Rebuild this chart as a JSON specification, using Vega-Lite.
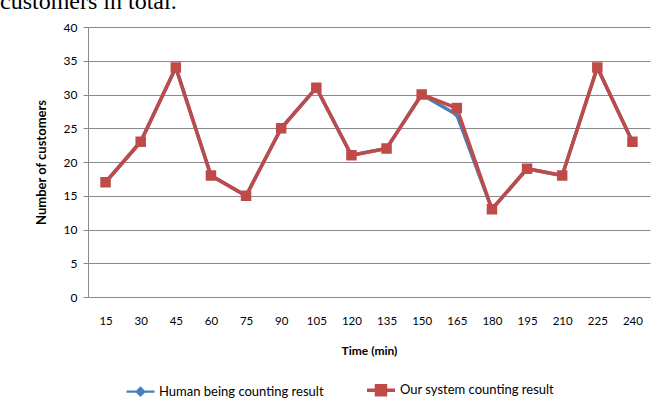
{
  "$schema": "https://vega.github.io/schema/vega-lite/v6.json",
  "autosize": "none",
  "width": 562,
  "height": 270,
  "padding": {"left": 88, "top": 27, "right": 22, "bottom": 111},
  "background": "white",
  "title": {
    "text": "customers in total.",
    "anchor": "start",
    "frame": "group",
    "orient": "top",
    "baseline": "top",
    "offset": 7,
    "dx": -88,
    "font": "Liberation Serif",
    "fontSize": 24,
    "fontWeight": "normal",
    "color": "#000000"
  },
  "config": {
    "view": {"stroke": null},
    "font": "Lato"
  },
  "data": {
    "values": [
      {"time": 15, "series": "Human being counting result", "count": 17},
      {"time": 30, "series": "Human being counting result", "count": 23},
      {"time": 45, "series": "Human being counting result", "count": 34},
      {"time": 60, "series": "Human being counting result", "count": 18},
      {"time": 75, "series": "Human being counting result", "count": 15},
      {"time": 90, "series": "Human being counting result", "count": 25},
      {"time": 105, "series": "Human being counting result", "count": 31},
      {"time": 120, "series": "Human being counting result", "count": 21},
      {"time": 135, "series": "Human being counting result", "count": 22},
      {"time": 150, "series": "Human being counting result", "count": 30},
      {"time": 165, "series": "Human being counting result", "count": 27},
      {"time": 180, "series": "Human being counting result", "count": 13},
      {"time": 195, "series": "Human being counting result", "count": 19},
      {"time": 210, "series": "Human being counting result", "count": 18},
      {"time": 225, "series": "Human being counting result", "count": 34},
      {"time": 240, "series": "Human being counting result", "count": 23},
      {"time": 15, "series": "Our system counting result", "count": 17},
      {"time": 30, "series": "Our system counting result", "count": 23},
      {"time": 45, "series": "Our system counting result", "count": 34},
      {"time": 60, "series": "Our system counting result", "count": 18},
      {"time": 75, "series": "Our system counting result", "count": 15},
      {"time": 90, "series": "Our system counting result", "count": 25},
      {"time": 105, "series": "Our system counting result", "count": 31},
      {"time": 120, "series": "Our system counting result", "count": 21},
      {"time": 135, "series": "Our system counting result", "count": 22},
      {"time": 150, "series": "Our system counting result", "count": 30},
      {"time": 165, "series": "Our system counting result", "count": 28},
      {"time": 180, "series": "Our system counting result", "count": 13},
      {"time": 195, "series": "Our system counting result", "count": 19},
      {"time": 210, "series": "Our system counting result", "count": 18},
      {"time": 225, "series": "Our system counting result", "count": 34},
      {"time": 240, "series": "Our system counting result", "count": 23}
    ]
  },
  "encoding": {
    "x": {
      "field": "time",
      "type": "ordinal",
      "sort": "ascending",
      "scale": {"type": "point", "padding": 0.5},
      "axis": {
        "title": "Time (min)",
        "labelAngle": 0,
        "ticks": false,
        "labelPadding": 18,
        "labelFontSize": 11.5,
        "labelColor": "#000000",
        "titleFontSize": 12,
        "titleFontWeight": "bold",
        "titleColor": "#000000",
        "titlePadding": 19,
        "domainColor": "#8a8a8a",
        "grid": false
      }
    },
    "y": {
      "field": "count",
      "type": "quantitative",
      "scale": {"domain": [0, 40], "nice": false},
      "axis": {
        "title": "Number of customers",
        "values": [0, 5, 10, 15, 20, 25, 30, 35, 40],
        "tickSize": 5,
        "tickColor": "#8a8a8a",
        "labelPadding": 6,
        "labelFontSize": 12,
        "labelColor": "#000000",
        "titleFontSize": 13,
        "titleFontWeight": "bold",
        "titleColor": "#000000",
        "titlePadding": 15,
        "domainColor": "#8a8a8a",
        "gridColor": "#8a8a8a",
        "gridOpacity": 1
      }
    }
  },
  "layer": [
    {
      "mark": {"type": "line", "strokeWidth": 3.5},
      "encoding": {
        "color": {
          "field": "series",
          "type": "nominal",
          "scale": {
            "domain": ["Human being counting result", "Our system counting result"],
            "range": ["#4A7EBB", "#BE4B48"]
          },
          "legend": {
            "title": null,
            "orient": "none",
            "direction": "horizontal",
            "legendX": 37,
            "legendY": 347,
            "symbolSize": 784,
            "symbolStrokeWidth": 2.5,
            "labelFontSize": 13,
            "labelLimit": 400,
            "labelColor": "#000000",
            "labelOffset": 3,
            "columnPadding": 36,
            "encode": {
              "symbols": {
                "update": {
                  "shape": {"signal": "datum.value === 'Human being counting result' ? 'M-1,0H1M0,-0.27L0.27,0L0,0.27L-0.27,0Z' : 'M-1,0H1M-0.32,-0.32H0.32V0.32H-0.32Z'"},
                  "fill": {"signal": "scale('color', datum.value)"},
                  "fillOpacity": {"value": 1}
                }
              }
            }
          }
        },
        "strokeWidth": {
          "field": "series",
          "type": "nominal",
          "scale": {
            "domain": ["Human being counting result", "Our system counting result"],
            "range": [2.2, 3.5]
          },
          "legend": null
        }
      }
    },
    {
      "transform": [{"filter": "datum.series === 'Human being counting result'"}],
      "mark": {"type": "point", "shape": "diamond", "filled": true, "size": 50, "color": "#4A7EBB", "opacity": 1}
    },
    {
      "transform": [{"filter": "datum.series === 'Our system counting result'"}],
      "mark": {"type": "point", "shape": "square", "filled": true, "size": 110, "color": "#BE4B48", "opacity": 1}
    }
  ]
}
